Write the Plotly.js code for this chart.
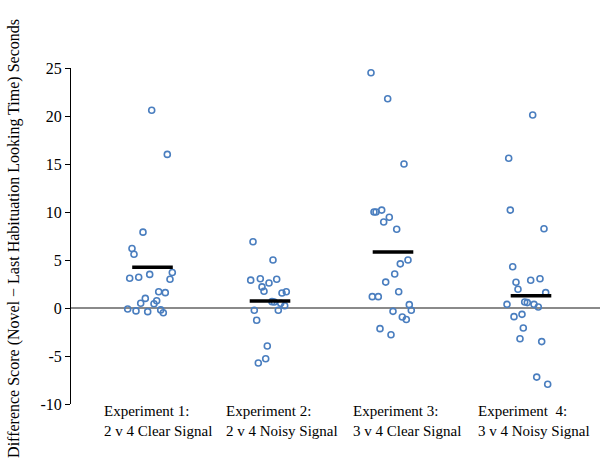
<!DOCTYPE html>
<html>
<head>
<meta charset="utf-8">
<script src="https://cdn.plot.ly/plotly-3.0.1.min.js"></script>
<style>html,body{margin:0;padding:0;background:#fff}#chart{width:600px;height:476px}</style>
</head>
<body>
<div id="chart"></div>
<script>
// Group labels (two lines each)
const labelLine1 = ["Experiment 1:", "Experiment 2:", "Experiment 3:", "Experiment  4:"];
const labelLine2 = ["2 v 4 Clear Signal", "2 v 4 Noisy Signal", "3 v 4 Clear Signal", "3 v 4 Noisy Signal"];

// Y tick values and labels (hyphen minus as in the reference)
const yTickVals = [-10, -5, 0, 5, 10, 15, 20, 25];
const yTickText = ["-10", "-5", "0", "5", "10", "15", "20", "25"];

// Jittered x positions and difference scores (seconds)
const exp1X = [0.807,0.963,0.72,0.61,0.63,0.587,0.677,0.787,1.013,0.99,0.877,0.943,0.743,0.857,0.697,0.83,0.567,0.65,0.767,0.897,0.923];
const exp1Y = [20.6,16.0,7.9,6.2,5.6,3.1,3.2,3.5,3.7,3.0,1.7,1.6,1.0,0.76,0.49,0.45,-0.1,-0.3,-0.38,-0.2,-0.5];

const exp2X = [1.82,2.02,1.797,1.893,2.057,1.98,1.91,1.93,2.153,2.11,2.01,2.033,2.097,2.137,1.833,2.073,1.857,1.963,1.947,1.873];
const exp2Y = [6.9,5.0,2.9,3.05,3.0,2.6,2.2,1.74,1.7,1.56,0.66,0.63,0.49,0.24,-0.24,-0.24,-1.28,-3.96,-5.28,-5.73];

const exp3X = [3.0,3.167,3.33,3.03,3.05,3.107,3.183,3.127,3.257,3.37,3.293,3.237,3.147,3.277,3.013,3.073,3.383,3.403,3.22,3.313,3.353,3.09,3.2];
const exp3Y = [24.5,21.8,15.0,10.0,10.0,10.2,9.45,8.96,8.2,5.0,4.6,3.54,2.7,1.7,1.18,1.18,0.35,-0.24,-0.35,-0.94,-1.2,-2.15,-2.78];

const exp4X = [4.617,4.377,4.393,4.73,4.417,4.45,4.597,4.69,4.47,4.747,4.537,4.563,4.36,4.63,4.673,4.51,4.43,4.523,4.49,4.707,4.657,4.767];
const exp4Y = [20.1,15.6,10.2,8.26,4.3,2.68,2.89,3.05,1.95,1.6,0.63,0.56,0.38,0.38,0.1,-0.66,-0.9,-2.08,-3.2,-3.5,-7.2,-7.95];

// Group means
const meanX = [0.815, 1.99, 3.22, 4.60];
const meanY = [4.24, 0.73, 5.83, 1.28];

const font = "'Liberation Serif', 'Times New Roman', serif";
const dotColor = "#4a7ebf";

const xs = [exp1X, exp2X, exp3X, exp4X];
const ys = [exp1Y, exp2Y, exp3Y, exp4Y];

const traces = xs.map((x, i) => ({
  type: "scatter", mode: "markers", x: x, y: ys[i],
  marker: {symbol: "circle-open", size: 6, color: dotColor, line: {width: 1.6, color: dotColor}},
  hoverinfo: "y", showlegend: false
}));
traces.push({
  type: "scatter", mode: "markers", x: meanX, y: meanY,
  marker: {symbol: "line-ew", size: 29, color: "#000", line: {width: 3.5, color: "#000"}},
  showlegend: false, hoverinfo: "y"
});

const labelX = [0.32, 1.54, 2.807, 4.057];
const annotations = labelLine1.map((t, i) => ({
  text: t + "<br>" + labelLine2[i], xref: "x", yref: "paper", x: labelX[i], y: -0.052,
  xanchor: "left", yanchor: "middle", align: "left", borderpad: 0,
  showarrow: false, font: {family: font, size: 15, color: "#000"}
}));
annotations.push({text: "Difference Score (Novel \u2212 Last Habituation Looking Time) Seconds",
  xref: "paper", yref: "paper", x: -0.108, y: 0.494, xanchor: "center", yanchor: "middle", textangle: -90,
  showarrow: false, font: {family: font, size: 16, color: "#000"}});

const layout = {
  width: 600, height: 476,
  margin: {l: 71, r: 0, t: 68, b: 72},
  paper_bgcolor: "#fff", plot_bgcolor: "#fff",
  font: {family: font, size: 15, color: "#000"},
  xaxis: {range: [0, 5.29], showgrid: false, zeroline: false, showline: false, showticklabels: false, ticks: ""},
  yaxis: {range: [-10, 25], tickmode: "array", tickvals: yTickVals, ticktext: yTickText,
    showgrid: false, zeroline: true, zerolinecolor: "#8a8a8a", zerolinewidth: 2,
    showline: true, linecolor: "#000", linewidth: 1, ticks: "outside", ticklen: 5, tickcolor: "#000",
    tickfont: {family: font, size: 16, color: "#000"}},
  annotations: annotations
};

Plotly.newPlot("chart", traces, layout, {displayModeBar: false, staticPlot: true});
</script>
</body>
</html>
